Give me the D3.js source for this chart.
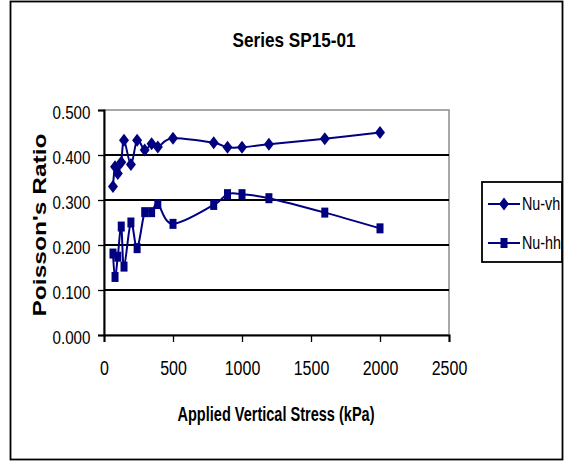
<!DOCTYPE html>
<html>
<head>
<meta charset="utf-8">
<script src="https://cdn.jsdelivr.net/npm/d3@7/dist/d3.min.js"></script>
<style>
  html, body { margin: 0; padding: 0; background: #fff; }
  svg { display: block; }
  text { font-family: "Liberation Sans", Arial, sans-serif; fill: #000; }
</style>
</head>
<body>
<svg id="chart" width="566" height="463"></svg>
<script>
// Applied vertical stress (kPa) at each loading step
const stress = [65, 80, 100, 125, 145, 195, 240, 295, 345, 390, 500, 795, 895, 1000, 1195, 1600, 2000];
// Poisson's ratio, vertical-horizontal
const nuVh = [0.330, 0.374, 0.359, 0.384, 0.433, 0.379, 0.433, 0.411, 0.425, 0.418, 0.437, 0.427, 0.417, 0.417, 0.424, 0.436, 0.450];
// Poisson's ratio, horizontal-horizontal
const nuHh = [0.181, 0.129, 0.174, 0.241, 0.152, 0.250, 0.193, 0.273, 0.273, 0.291, 0.247, 0.289, 0.313, 0.313, 0.304, 0.272, 0.237];

const xTicks = [0, 500, 1000, 1500, 2000, 2500];
const yTicks = [0, 0.1, 0.2, 0.3, 0.4, 0.5];
const seriesNames = ["Nu-vh", "Nu-hh"];

const navy = "#000080";
const narrow = 0.82;   // condensed lettering
const svg = d3.select("#chart");

// Outer chart frame
svg.append("rect")
  .attr("x", 10.5).attr("y", 1.5).attr("width", 552).attr("height", 458)
  .attr("fill", "#fff").attr("stroke", "#000").attr("stroke-width", 1.8);

const plot = { left: 104, right: 449, top: 110, bottom: 335 };

const x = d3.scaleLinear().domain([0, 2500]).range([plot.left, plot.right]);
const y = d3.scaleLinear().domain([0, 0.5]).range([plot.bottom, plot.top]);

// Plot area border (grey)
svg.append("rect")
  .attr("x", plot.left).attr("y", plot.top)
  .attr("width", plot.right - plot.left).attr("height", plot.bottom - plot.top)
  .attr("fill", "none").attr("stroke", "#8c8c8c").attr("stroke-width", 1.5);

// Major gridlines
svg.append("g")
  .selectAll("line")
  .data(yTicks.filter(t => t > 0 && t < 0.5))
  .join("line")
  .attr("x1", plot.left).attr("x2", plot.right)
  .attr("y1", d => y(d)).attr("y2", d => y(d))
  .attr("stroke", "#000").attr("stroke-width", 2);

// Y axis
const yAxis = svg.append("g")
  .attr("transform", `translate(${plot.left},0)`)
  .call(d3.axisLeft(y).tickValues(yTicks).tickFormat(d3.format(".3f")).tickSize(6).tickPadding(10.5));
yAxis.select(".domain").attr("stroke", "#000").attr("stroke-width", 2);
yAxis.selectAll(".tick line").attr("stroke", "#000").attr("stroke-width", 1.3);
yAxis.selectAll(".tick text")
  .attr("font-size", 18.5).attr("font-family", null).attr("fill", "#000")
  .attr("dy", "0.45em")
  .attr("transform", `scale(${narrow},1)`);

// X axis
const xAxis = svg.append("g")
  .attr("transform", `translate(0,${plot.bottom})`)
  .call(d3.axisBottom(x).tickValues(xTicks).tickFormat(d3.format("d")).tickSize(7).tickPadding(19));
xAxis.select(".domain").attr("stroke", "#000").attr("stroke-width", 2);
xAxis.selectAll(".tick line").attr("stroke", "#000").attr("stroke-width", 1.3);
xAxis.selectAll(".tick text")
  .attr("font-size", 19.5).attr("font-family", null).attr("fill", "#000")
  .attr("transform", `scale(${narrow},1)`);

// Titles
svg.append("text")
  .attr("x", 294).attr("y", 47)
  .attr("text-anchor", "middle").attr("font-size", 21).attr("font-weight", "bold")
  .attr("textLength", 123).attr("lengthAdjust", "spacingAndGlyphs")
  .text("Series SP15-01");

svg.append("text")
  .attr("x", 276).attr("y", 421)
  .attr("text-anchor", "middle").attr("font-size", 19.5).attr("font-weight", "bold")
  .attr("textLength", 197).attr("lengthAdjust", "spacingAndGlyphs")
  .text("Applied Vertical Stress (kPa)");

svg.append("text")
  .attr("transform", "translate(46,225) rotate(-90)")
  .attr("text-anchor", "middle").attr("font-size", 18).attr("font-weight", "bold")
  .attr("textLength", 183).attr("lengthAdjust", "spacingAndGlyphs")
  .text("Poisson's Ratio");

// Series lines (smoothed)
const line = d3.line()
  .x(d => x(d[0])).y(d => y(d[1]))
  .curve(d3.curveCatmullRom.alpha(0));

const vhData = stress.map((s, i) => [s, nuVh[i]]);
const hhData = stress.map((s, i) => [s, nuHh[i]]);

svg.append("path").datum(vhData).attr("d", line)
  .attr("fill", "none").attr("stroke", navy).attr("stroke-width", 2);
svg.append("path").datum(hhData).attr("d", line)
  .attr("fill", "none").attr("stroke", navy).attr("stroke-width", 2);

// Marker shapes
const diamond = (cx, cy) => `M${cx},${cy - 6.5}L${cx + 5},${cy}L${cx},${cy + 6.5}L${cx - 5},${cy}Z`;
const square = (cx, cy) => `M${cx - 3.5},${cy - 5}h7v10h-7Z`;

svg.append("g").selectAll("path")
  .data(vhData).join("path")
  .attr("d", d => diamond(x(d[0]), y(d[1])))
  .attr("fill", navy);

svg.append("g").selectAll("path")
  .data(hhData).join("path")
  .attr("d", d => square(x(d[0]), y(d[1])))
  .attr("fill", navy);

// Legend
const legend = svg.append("g");
legend.append("rect")
  .attr("x", 482).attr("y", 182).attr("width", 80).attr("height", 80)
  .attr("fill", "#fff").attr("stroke", "#000").attr("stroke-width", 1.8);

const legendRows = [
  { name: seriesNames[0], y: 204, shape: diamond },
  { name: seriesNames[1], y: 243, shape: square }
];
legendRows.forEach(r => {
  legend.append("line")
    .attr("x1", 488).attr("x2", 520).attr("y1", r.y).attr("y2", r.y)
    .attr("stroke", navy).attr("stroke-width", 2);
  legend.append("path").attr("d", r.shape(504, r.y)).attr("fill", navy);
  legend.append("text")
    .attr("transform", `translate(522,${r.y}) scale(${narrow},1)`)
    .attr("dy", "0.36em")
    .attr("font-size", 17.5)
    .text(r.name);
});
</script>
</body>
</html>
